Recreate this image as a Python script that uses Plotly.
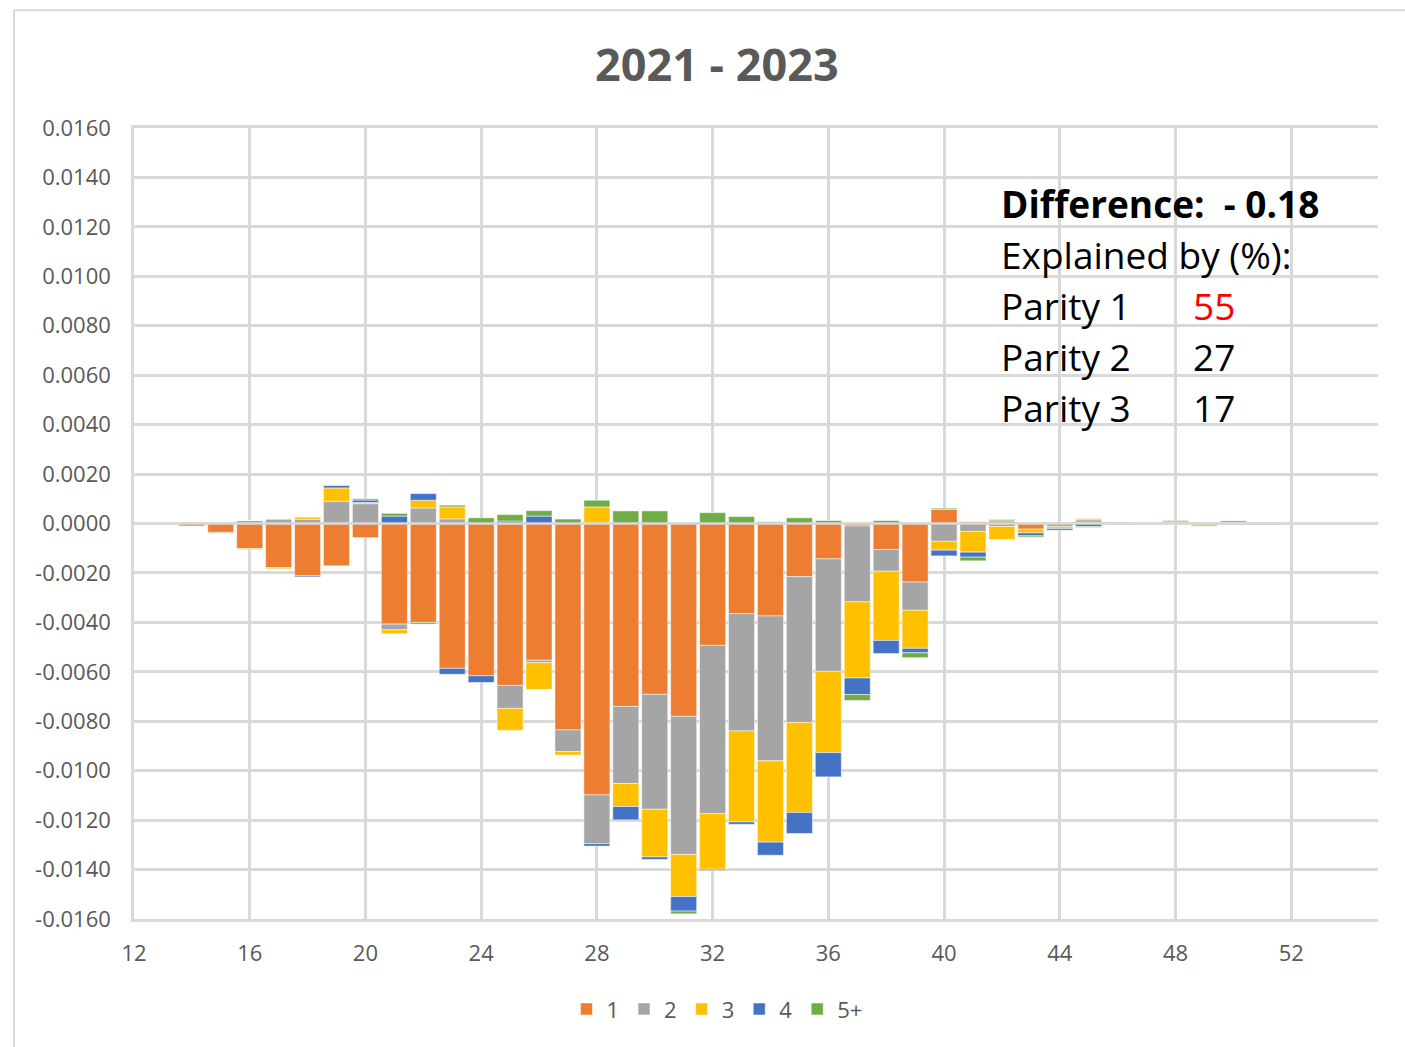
import plotly.graph_objects as go

# Age of mother (single years)
ages = list(range(14, 52))

# Contribution of each birth order to the change in age-specific fertility
parity_1 = [-0.00010, -0.00036, -0.00101, -0.00178, -0.00211, -0.00171, -0.00057, -0.00407,
            -0.00400, -0.00586, -0.00616, -0.00655, -0.00553, -0.00835, -0.01098, -0.00740,
            -0.00691, -0.00780, -0.00493, -0.00364, -0.00374, -0.00215, -0.00143, -0.00010,
            -0.00105, -0.00237, 0.00057, 0.00007, 0.00011, -0.00023, 0.0, 0.00005,
            0.0, 0.0, 0.00007, 0.0, 0.00005, 0.0]
parity_2 = [0.0, -0.00004, 0.00012, 0.00019, 0.00017, 0.00090, 0.00080, -0.00023,
            0.00063, 0.00019, 0.0, -0.00093, -0.00010, -0.00088, -0.00197, -0.00312,
            -0.00465, -0.00559, -0.00681, -0.00475, -0.00586, -0.00590, -0.00455, -0.00307,
            -0.00088, -0.00114, -0.00072, -0.00032, -0.00012, 0.0, -0.00013, 0.00010,
            0.0, 0.0, 0.0, 0.0, 0.0, 0.0]
parity_3 = [0.0, 0.0, -0.00005, -0.00005, 0.00010, 0.00054, 0.00005, -0.00016,
            0.00031, 0.00048, 0.0, -0.00089, -0.00108, -0.00014, 0.00067, -0.00093,
            -0.00193, -0.00170, -0.00225, -0.00368, -0.00329, -0.00364, -0.00329, -0.00308,
            -0.00280, -0.00154, -0.00036, -0.00084, -0.00053, -0.00015, -0.00007, 0.00005,
            0.0, 0.0, 0.0, -0.00007, 0.0, 0.0]
parity_4 = [0.0, 0.0, 0.0, 0.0, -0.00005, 0.00011, 0.00010, 0.00030,
            0.00027, -0.00024, -0.00027, 0.00010, 0.00030, 0.0, -0.00010, -0.00054,
            -0.00010, -0.00059, -0.00005, -0.00010, -0.00053, -0.00085, -0.00098, -0.00067,
            -0.00053, -0.00018, -0.00023, -0.00020, 0.0, -0.00012, -0.00007, -0.00012,
            0.0, 0.00005, -0.00004, 0.0, 0.00006, 0.0]
parity_5p = [0.0, 0.0, 0.0, 0.0, 0.0, 0.0, 0.00005, 0.00011,
             -0.00007, 0.00007, 0.00023, 0.00026, 0.00022, 0.00018, 0.00027, 0.00051,
             0.00051, -0.00011, 0.00044, 0.00028, 0.00007, 0.00023, 0.00012, -0.00024,
             0.00012, -0.00020, 0.00005, -0.00015, 0.00005, -0.00005, 0.0, -0.00004,
             0.00005, 0.0, 0.00005, -0.00004, 0.0, -0.00004]

series_names = ["1", "2", "3", "4", "5+"]
series_colors = ["#ED7D31", "#A5A5A5", "#FFC000", "#4472C4", "#70AD47"]

# Axis ticks
x_ticks = list(range(12, 53, 4))
y_ticks = [i / 10000 for i in range(-160, 161, 20)]
y_tick_text = [f"{v:.4f}" for v in y_ticks]

title_text = "2021 - 2023"
difference_text = "Difference:  - 0.18"
explained_text = "Explained by (%):"
parity_labels = ["Parity 1", "Parity 2", "Parity 3"]
parity_shares = ["55", "27", "17"]
share_colors = ["#FF0000", "#000000", "#000000"]

FONT = "Open Sans"
AXIS_GREY = "#595959"
GRID = "#D9D9D9"
PANEL_SIZE = 37

fig = go.Figure()
for name, color, vals in zip(series_names, series_colors,
                             [parity_1, parity_2, parity_3, parity_4, parity_5p]):
    fig.add_trace(go.Bar(
        x=ages, y=vals, name=name,
        marker=dict(color=color, line=dict(color="#FFFFFF", width=0.5)),
    ))

# Text panel with the decomposition summary
fig.add_shape(type="rect", xref="x", yref="y", x0=41.3, x1=53.7, y0=0.0032, y1=0.0145,
              fillcolor="white", line=dict(width=0), layer="below")

# Zero axis line drawn over the bars
fig.add_shape(type="line", xref="paper", yref="y", x0=0, x1=1, y0=0, y1=0,
              line=dict(color=GRID, width=2.5), layer="above")

# Chart-area border
fig.add_shape(type="line", xref="paper", yref="paper", x0=-0.0965, x1=1.03, y0=1.149, y1=1.149,
              line=dict(color="#D9D9D9", width=2))
fig.add_shape(type="line", xref="paper", yref="paper", x0=-0.0965, x1=-0.0965, y0=1.149, y1=-0.17,
              line=dict(color="#D9D9D9", width=2))

annotations = [
    dict(text=f"<b>{title_text}</b>", xref="paper", yref="paper", x=0.4686, y=1.081,
         xanchor="center", yanchor="middle", showarrow=False,
         font=dict(family=FONT, size=45, color=AXIS_GREY)),
    dict(text=f"<b>{difference_text}</b>", xref="x", yref="y", x=41.9, y=0.01293,
         xanchor="left", yanchor="middle", showarrow=False,
         font=dict(family=FONT, size=PANEL_SIZE, color="#000000")),
    dict(text=explained_text, xref="x", yref="y", x=41.9, y=0.01087,
         xanchor="left", yanchor="middle", showarrow=False,
         font=dict(family=FONT, size=PANEL_SIZE, color="#000000")),
]
row_y = [0.00881, 0.00675, 0.00469]
for lab, share, col, yy in zip(parity_labels, parity_shares, share_colors, row_y):
    annotations.append(dict(text=lab, xref="x", yref="y", x=41.9, y=yy,
                            xanchor="left", yanchor="middle", showarrow=False,
                            font=dict(family=FONT, size=PANEL_SIZE, color="#000000")))
    annotations.append(dict(text=share, xref="x", yref="y", x=48.55, y=yy,
                            xanchor="left", yanchor="middle", showarrow=False,
                            font=dict(family=FONT, size=PANEL_SIZE, color=col)))

fig.update_layout(
    width=1405, height=1047,
    margin=dict(l=134, r=27, t=128, b=128),
    barmode="relative",
    bargap=0.1,
    plot_bgcolor="white",
    paper_bgcolor="white",
    font=dict(family=FONT, size=22, color=AXIS_GREY),
    showlegend=True,
    legend=dict(orientation="h", x=0.4686, xanchor="center", y=-0.114, yanchor="middle",
                font=dict(family=FONT, size=22, color=AXIS_GREY),
                itemwidth=30, traceorder="normal"),
    annotations=annotations,
)
fig.update_xaxes(range=[12, 55], tickmode="array", tickvals=x_ticks,
                 showgrid=True, gridcolor=GRID, gridwidth=2.5,
                 showline=True, linecolor=GRID, linewidth=2.5, mirror=True,
                 zeroline=False, ticks="",
                 ticklabelstandoff=13,
                 tickfont=dict(family=FONT, size=22, color=AXIS_GREY))
fig.update_yaxes(range=[-0.016, 0.016], tickmode="array", tickvals=y_ticks, ticktext=y_tick_text,
                 showgrid=True, gridcolor=GRID, gridwidth=2.5,
                 showline=True, linecolor=GRID, linewidth=2.5, mirror=False,
                 zeroline=False, ticks="",
                 ticklabelstandoff=16,
                 tickfont=dict(family=FONT, size=22, color=AXIS_GREY))

fig.write_html("out.html")
